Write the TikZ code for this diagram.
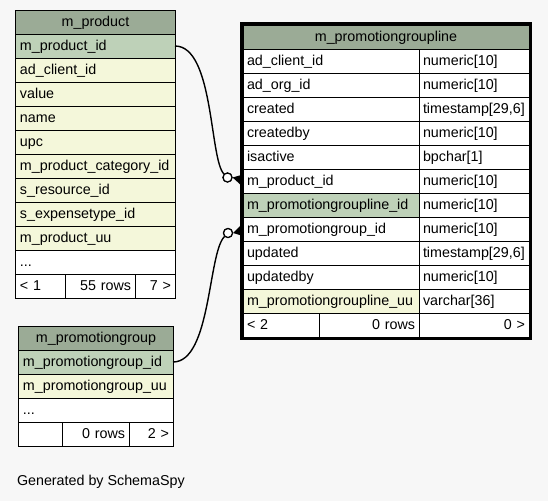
\documentclass[tikz,border=0pt]{standalone}
\usepackage{fontspec}
\setmainfont{Liberation Sans}
\usepackage{tikz}
\usetikzlibrary{matrix, positioning}

\definecolor{headgreen}{HTML}{9BAB96}
\definecolor{keygreen}{HTML}{BED1B8}
\definecolor{idxyellow}{HTML}{F4F7DA}
\definecolor{pagegray}{HTML}{F7F7F7}

\newcommand{\schemafont}{\fontsize{14.3}{17}\selectfont}

\begin{document}
\begin{tikzpicture}[x=1pt, y=-1pt, line width=1pt]

	\tikzset{table matrix/.style={
			matrix of nodes, nodes in empty cells,
			column sep=-\pgflinewidth, row sep=-\pgflinewidth,
			inner sep=0pt, outer sep=0pt, anchor=north west,
			nodes={draw,
				fill=white,
				minimum height=24pt,
				anchor=center,
				text width=#1,
				text height=11pt, text depth=3pt,
				align=left,
				inner xsep=4pt, inner ysep=0pt,
				font=\schemafont
			},
		},
		table matrix/.default=151pt,
		headcell/.style={fill=headgreen, align=center},
		keycell/.style={fill=keygreen},
		idxcell/.style={fill=idxyellow},
		crowend/.style={circle, draw, fill=white, minimum size=9pt, inner sep=0pt, line width=1.2pt},
		relation/.style={line width=1.4pt}
	}

	\fill[pagegray] (0,0) rectangle (548,501);
	\useasboundingbox (0,0) rectangle (548,501);

	% m_product
	\matrix[table matrix] (prod) at (15.5,9.5)
	{
		|[headcell]| m\_product \\
		|[keycell]| m\_product\_id \\
		|[idxcell]| ad\_client\_id \\
		|[idxcell]| value \\
		|[idxcell]| name \\
		|[idxcell]| upc \\
		|[idxcell]| m\_product\_category\_id \\
		|[idxcell]| s\_resource\_id \\
		|[idxcell]| s\_expensetype\_id \\
		|[idxcell]| m\_product\_uu \\
		... \\
	};
	\matrix[table matrix,
		column 1/.style={nodes={text width=42pt}},
		column 2/.style={nodes={text width=61pt, align=right}},
		column 3/.style={nodes={text width=32pt, align=right}}] (prodfoot) at (15.5,273.5)
	{
		< 1 & 55 rows & 7 > \\
	};

	% m_promotiongroupline
	\matrix[table matrix=278pt] (linehead) at (242.5,24.5)
	{
		|[headcell]| m\_promotiongroupline \\
	};
	\matrix[table matrix,
		column 1/.style={nodes={text width=168pt}},
		column 2/.style={nodes={text width=102pt}}] (line) at (242.5,48.5)
	{
		ad\_client\_id & numeric[10] \\
		ad\_org\_id & numeric[10] \\
		created & timestamp[29,6] \\
		createdby & numeric[10] \\
		isactive & bpchar[1] \\
		m\_product\_id & numeric[10] \\
		|[keycell]| m\_promotiongroupline\_id & numeric[10] \\
		m\_promotiongroup\_id & numeric[10] \\
		updated & timestamp[29,6] \\
		updatedby & numeric[10] \\
		|[idxcell]| m\_promotiongroupline\_uu & varchar[36] \\
	};
	\matrix[table matrix,
		column 1/.style={nodes={text width=68pt}},
		column 2/.style={nodes={text width=92pt, align=right}},
		column 3/.style={nodes={text width=102pt, align=right}}] (linefoot) at (242.5,312.5)
	{
		< 2 & 0 rows & 0 > \\
	};
	\draw[line width=3pt] (241.5,23.5) rectangle (530.5,338.5);

	% m_promotiongroup
	\matrix[table matrix=146pt] (grp) at (18.5,325.5)
	{
		|[headcell]| m\_promotiongroup \\
		|[keycell]| m\_promotiongroup\_id \\
		|[idxcell]| m\_promotiongroup\_uu \\
		... \\
	};
	\matrix[table matrix,
		column 1/.style={nodes={text width=36pt}},
		column 2/.style={nodes={text width=58pt, align=right}},
		column 3/.style={nodes={text width=36pt, align=right}}] (grpfoot) at (18.5,421.5)
	{
		& 0 rows & 2 > \\
	};

	% relations
	\node[crowend] (prodend) at (227.5,177.5) {};
	\node[crowend] (grpend) at (228,233) {};
	\draw[relation] (prod-2-1.east) .. controls +(39,0) and +(-18,-18) .. (prodend);
	\draw[relation] (grp-2-1.east) .. controls +(38,0) and +(-20,20) .. (grpend);
	\fill (prodend.east) -- ([yshift=6.5pt]line-6-1.west) -- ([yshift=-6pt]line-6-1.west) -- cycle;
	\fill (grpend.east) -- ([yshift=6pt]line-8-1.west) -- ([yshift=-7pt]line-8-1.west) -- cycle;
	\node[crowend] at (prodend) {};
	\node[crowend] at (grpend) {};

	\node[anchor=base west, inner sep=0pt, font=\schemafont] (generated) at (16.5,485.7) {Generated by SchemaSpy};

\end{tikzpicture}
\end{document}
